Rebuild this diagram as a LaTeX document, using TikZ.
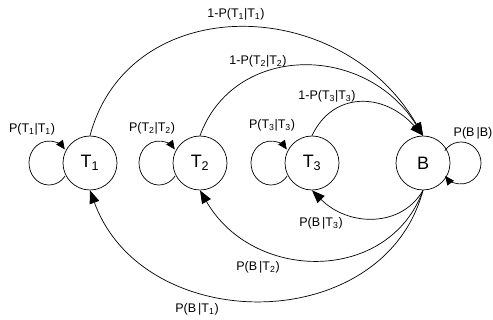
\documentclass[tikz,border=0pt]{standalone}
\usepackage{fontspec}
\setmainfont{Liberation Sans}
\usetikzlibrary{arrows.meta}
\tikzset{
  sstate/.style={
    circle, draw, line width=0.7pt, minimum size=54pt, inner sep=0pt,
    font=\fontsize{18}{20}\selectfont
  },
  plabel/.style={font=\fontsize{12.5}{14}\selectfont, inner sep=0pt},
  parrow/.style={draw, line width=0.7pt, -{Triangle[length=13pt,width=10pt]}},
  sarrow/.style={draw, line width=0.7pt, -{Triangle[length=9pt,width=8pt]}}
}

\begin{document}
\begin{tikzpicture}[x=1pt,y=1pt]
    \useasboundingbox (0,0) rectangle (493,-320);
    % Estados
    \node[sstate] (t1) at (90,-163)  {T\textsubscript{1}};
    \node[sstate] (t2) at (200,-163) {T\textsubscript{2}};
    \node[sstate] (t3) at (312,-163) {T\textsubscript{3}};
    \node[sstate] (b)  at (423,-163) {B};
    % Etiquetas
    \node[plabel] (l11) at (32,-129)  {P(T\textsubscript{1}|T\textsubscript{1})};
    \node[plabel] (l22) at (152,-128) {P(T\textsubscript{2}|T\textsubscript{2})};
    \node[plabel] (l33) at (272,-125) {P(T\textsubscript{3}|T\textsubscript{3})};
    \node[plabel] (lbb) at (473,-133) {P(B\,|B)};
    \node[plabel] (l1b) at (236,-14)  {1-P(T\textsubscript{1}|T\textsubscript{1})};
    \node[plabel] (l2b) at (258,-61)  {1-P(T\textsubscript{2}|T\textsubscript{2})};
    \node[plabel] (l3b) at (327,-96)  {1-P(T\textsubscript{3}|T\textsubscript{3})};
    \node[plabel] (lb3) at (321,-223) {P(B\,|T\textsubscript{3})};
    \node[plabel] (lb2) at (258,-267) {P(B\,|T\textsubscript{2})};
    \node[plabel] (lb1) at (197,-309) {P(B\,|T\textsubscript{1})};
    % Bucles
    \foreach \s in {t1,t2,t3}
      \draw[sarrow] ([shift={(-41,0)}]\s.center) ++(-36:20 and 22)
                    arc[start angle=-36, end angle=-322, x radius=20, y radius=22];
    \draw[sarrow] ([shift={(38,0)}]b.center) ++(144:20 and 21)
                  arc[start angle=144, end angle=-142, x radius=20, y radius=21];
    % Hacia B
    \draw[parrow] (t1.north) .. controls +(75:150) and +(120:165) .. (b.north);
    \draw[parrow] (t2.north) .. controls +(70:98) and +(122:110) .. (b.north);
    \draw[parrow] (t3.north) .. controls +(65:48) and +(132:60) .. (b.north);
    % Desde B
    \draw[parrow] (b.south) .. controls +(240:43) and +(-45:52) .. (t3.south);
    \draw[parrow] (b.south) .. controls +(250:99) and +(-60:107) .. (t2.south);
    \draw[parrow] (b.south) .. controls +(255:152) and +(-70:156) .. (t1.south);
\end{tikzpicture}
\end{document}
